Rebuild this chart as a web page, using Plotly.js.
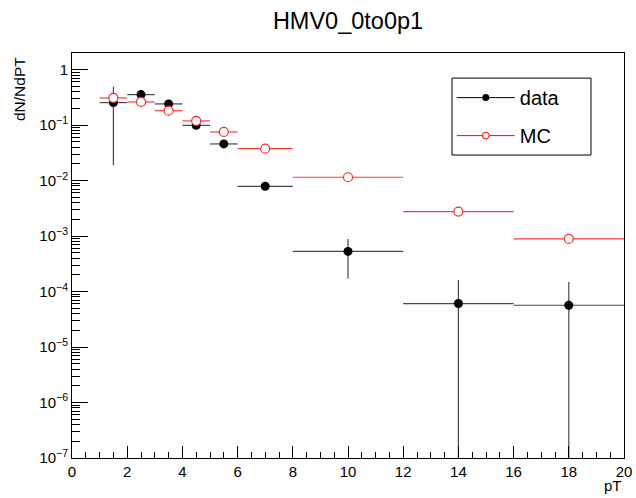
<!DOCTYPE html>
<html>
<head>
<meta charset="utf-8">
<script src="https://cdn.plot.ly/plotly-3.0.1.min.js"></script>
<style>html,body{margin:0;padding:0;background:#fff;}#chart{width:636px;height:498px;}</style>
</head>
<body>
<div id="chart"></div>
<script>
// bin centres and half-widths
const binCenters = [1.5, 2.5, 3.5, 4.5, 5.5, 7, 10, 14, 18];
const binHalfWidths = [0.5, 0.5, 0.5, 0.5, 0.5, 1, 2, 2, 2];
// data series
const dataValues = [0.255, 0.355, 0.241, 0.099, 0.0458, 0.0079, 0.00053, 0.0000608, 0.0000567];
const dataErrors = [0.236, 0.02, 0.015, 0.008, 0.004, 0.0008, 0.00036, 0.0001, 0.000092];
// MC series
const mcValues = [0.309, 0.262, 0.182, 0.119, 0.0753, 0.0377, 0.0115, 0.00276, 0.00089];
const mcErrors = [0, 0, 0, 0, 0, 0, 0, 0, 0];
// y tick labels
const yTickVals = [1e-7, 1e-6, 1e-5, 1e-4, 1e-3, 1e-2, 1e-1, 1];
const yTickText = ['10<sup>−7</sup>', '10<sup>−6</sup>', '10<sup>−5</sup>', '10<sup>−4</sup>', '10<sup>−3</sup>', '10<sup>−2</sup>', '10<sup>−1</sup>', '1'];
const xTickVals = [0, 2, 4, 6, 8, 10, 12, 14, 16, 18, 20];

const FONT = 'Liberation Sans, Arial, Helvetica, sans-serif';

const traces = [
  {
    x: binCenters, y: dataValues, type: 'scatter', mode: 'markers', showlegend: false,
    marker: {color: 'black', size: 9, symbol: 'circle'},
    error_x: {type: 'data', array: binHalfWidths, visible: true, color: 'rgb(70,70,70)', thickness: 1.2, width: 0},
    error_y: {type: 'data', array: dataErrors, visible: true, color: 'rgb(70,70,70)', thickness: 1.2, width: 0}
  },
  {
    x: binCenters, y: mcValues, type: 'scatter', mode: 'markers', showlegend: false,
    marker: {color: 'white', size: 9, symbol: 'circle', line: {color: 'rgb(255,40,40)', width: 1.2}},
    error_x: {type: 'data', array: binHalfWidths, visible: true, color: 'rgb(255,60,60)', thickness: 1.2, width: 0},
    error_y: {type: 'data', array: mcErrors, visible: true, color: 'rgb(255,60,60)', thickness: 1.2, width: 0}
  },
  {
    x: [null], y: [null], type: 'scatter', mode: 'lines+markers', name: 'data', legendgroup: 'g1',
    line: {color: 'black', width: 1},
    marker: {color: 'black', size: 7}
  },
  {
    x: [null], y: [null], type: 'scatter', mode: 'lines+markers', name: 'MC', legendgroup: 'g2',
    line: {color: 'red', width: 1},
    marker: {color: 'white', size: 7, line: {color: 'red', width: 1}}
  }
];

const layout = {
  width: 636, height: 498,
  margin: {l: 72, r: 12, t: 53, b: 40},
  paper_bgcolor: 'white', plot_bgcolor: 'white',
  font: {family: FONT, color: 'black'},
  title: {text: 'HMV0_0to0p1', font: {family: FONT, size: 23.5, color: 'black'}, x: 0.5, xref: 'paper', xanchor: 'center', y: 0.958, yref: 'container', yanchor: 'middle'},
  xaxis: {
    range: [0, 20], showgrid: false, zeroline: false,
    showline: true, linecolor: 'black', linewidth: 1, mirror: true,
    ticks: 'inside', ticklen: 12, tickcolor: 'black', tickwidth: 1,
    tickvals: xTickVals, ticktext: xTickVals.map(String),
    tickfont: {family: FONT, size: 15, color: 'black'},
    minor: {ticks: 'inside', ticklen: 6, dtick: 0.5, tickcolor: 'black', showgrid: false}
  },
  yaxis: {
    type: 'log', range: [-7, 0.3], showgrid: false, zeroline: false,
    showline: true, linecolor: 'black', linewidth: 1, mirror: true,
    ticks: 'inside', ticklen: 16, tickcolor: 'black', tickwidth: 1,
    tickvals: yTickVals, ticktext: yTickText,
    tickfont: {family: FONT, size: 15, color: 'black'},
    minor: {ticks: 'inside', ticklen: 8, dtick: 'D1', tickcolor: 'black', showgrid: false}
  },
  legend: {
    x: 0.688, y: 0.938, xanchor: 'left', yanchor: 'top',
    borderwidth: 0, bgcolor: 'rgba(0,0,0,0)',
    font: {family: FONT, size: 20, color: 'black'},
    tracegroupgap: 9, itemwidth: 58
  },
  shapes: [
    {type: 'rect', xref: 'paper', yref: 'paper', x0: 0.6884, x1: 0.9402, y0: 0.748, y1: 0.938,
     line: {color: 'black', width: 1}, fillcolor: 'white', layer: 'above'}
  ],
  annotations: [
    {text: 'dN/NdPT', xref: 'paper', yref: 'paper', x: -0.096, y: 0.995, xanchor: 'center', yanchor: 'top', textangle: -90, showarrow: false, font: {family: FONT, size: 15.5, color: 'black'}},
    {text: 'pT', xref: 'paper', yref: 'paper', x: 1.0, y: -0.043, xanchor: 'right', yanchor: 'top', showarrow: false, font: {family: FONT, size: 15, color: 'black'}}
  ]
};

Plotly.newPlot('chart', traces, layout, {displayModeBar: false, staticPlot: true});
</script>
</body>
</html>
